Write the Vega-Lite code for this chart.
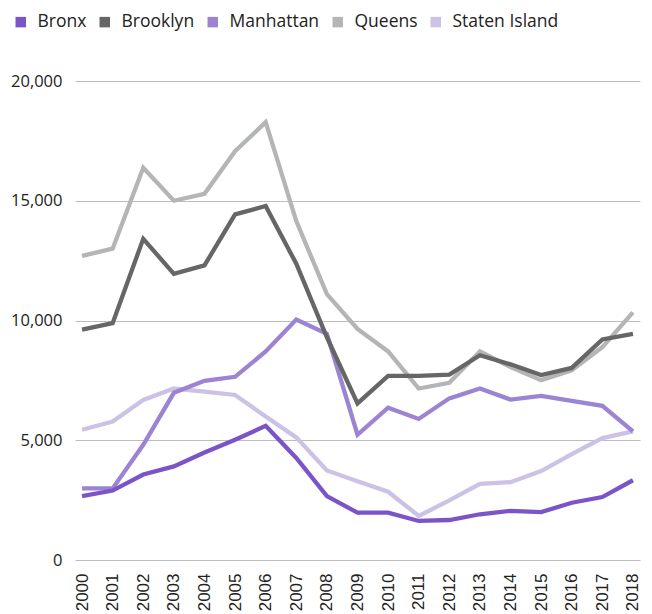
{
  "$schema": "https://vega.github.io/schema/vega-lite/v6.json",
  "autosize": {"type": "none"},
  "width": 565,
  "height": 479,
  "padding": {"left": 75, "top": 81, "right": 12, "bottom": 54},
  "background": "white",
  "config": {"view": {"stroke": null}},
  "data": {"values": [
    {"borough": "Staten Island", "year": "2000", "value": 5440},
    {"borough": "Staten Island", "year": "2001", "value": 5780},
    {"borough": "Staten Island", "year": "2002", "value": 6680},
    {"borough": "Staten Island", "year": "2003", "value": 7160},
    {"borough": "Staten Island", "year": "2004", "value": 7030},
    {"borough": "Staten Island", "year": "2005", "value": 6890},
    {"borough": "Staten Island", "year": "2006", "value": 5990},
    {"borough": "Staten Island", "year": "2007", "value": 5120},
    {"borough": "Staten Island", "year": "2008", "value": 3740},
    {"borough": "Staten Island", "year": "2009", "value": 3290},
    {"borough": "Staten Island", "year": "2010", "value": 2850},
    {"borough": "Staten Island", "year": "2011", "value": 1840},
    {"borough": "Staten Island", "year": "2012", "value": 2490},
    {"borough": "Staten Island", "year": "2013", "value": 3180},
    {"borough": "Staten Island", "year": "2014", "value": 3250},
    {"borough": "Staten Island", "year": "2015", "value": 3710},
    {"borough": "Staten Island", "year": "2016", "value": 4420},
    {"borough": "Staten Island", "year": "2017", "value": 5090},
    {"borough": "Staten Island", "year": "2018", "value": 5370},
    {"borough": "Queens", "year": "2000", "value": 12700},
    {"borough": "Queens", "year": "2001", "value": 13000},
    {"borough": "Queens", "year": "2002", "value": 16380},
    {"borough": "Queens", "year": "2003", "value": 15000},
    {"borough": "Queens", "year": "2004", "value": 15290},
    {"borough": "Queens", "year": "2005", "value": 17070},
    {"borough": "Queens", "year": "2006", "value": 18280},
    {"borough": "Queens", "year": "2007", "value": 14150},
    {"borough": "Queens", "year": "2008", "value": 11100},
    {"borough": "Queens", "year": "2009", "value": 9650},
    {"borough": "Queens", "year": "2010", "value": 8710},
    {"borough": "Queens", "year": "2011", "value": 7160},
    {"borough": "Queens", "year": "2012", "value": 7400},
    {"borough": "Queens", "year": "2013", "value": 8710},
    {"borough": "Queens", "year": "2014", "value": 8060},
    {"borough": "Queens", "year": "2015", "value": 7510},
    {"borough": "Queens", "year": "2016", "value": 7920},
    {"borough": "Queens", "year": "2017", "value": 8890},
    {"borough": "Queens", "year": "2018", "value": 10340},
    {"borough": "Manhattan", "year": "2000", "value": 2990},
    {"borough": "Manhattan", "year": "2001", "value": 2990},
    {"borough": "Manhattan", "year": "2002", "value": 4810},
    {"borough": "Manhattan", "year": "2003", "value": 6980},
    {"borough": "Manhattan", "year": "2004", "value": 7480},
    {"borough": "Manhattan", "year": "2005", "value": 7650},
    {"borough": "Manhattan", "year": "2006", "value": 8710},
    {"borough": "Manhattan", "year": "2007", "value": 10040},
    {"borough": "Manhattan", "year": "2008", "value": 9440},
    {"borough": "Manhattan", "year": "2009", "value": 5230},
    {"borough": "Manhattan", "year": "2010", "value": 6360},
    {"borough": "Manhattan", "year": "2011", "value": 5890},
    {"borough": "Manhattan", "year": "2012", "value": 6750},
    {"borough": "Manhattan", "year": "2013", "value": 7160},
    {"borough": "Manhattan", "year": "2014", "value": 6700},
    {"borough": "Manhattan", "year": "2015", "value": 6850},
    {"borough": "Manhattan", "year": "2016", "value": 6640},
    {"borough": "Manhattan", "year": "2017", "value": 6440},
    {"borough": "Manhattan", "year": "2018", "value": 5370},
    {"borough": "Brooklyn", "year": "2000", "value": 9620},
    {"borough": "Brooklyn", "year": "2001", "value": 9890},
    {"borough": "Brooklyn", "year": "2002", "value": 13410},
    {"borough": "Brooklyn", "year": "2003", "value": 11950},
    {"borough": "Brooklyn", "year": "2004", "value": 12300},
    {"borough": "Brooklyn", "year": "2005", "value": 14430},
    {"borough": "Brooklyn", "year": "2006", "value": 14780},
    {"borough": "Brooklyn", "year": "2007", "value": 12370},
    {"borough": "Brooklyn", "year": "2008", "value": 9300},
    {"borough": "Brooklyn", "year": "2009", "value": 6540},
    {"borough": "Brooklyn", "year": "2010", "value": 7690},
    {"borough": "Brooklyn", "year": "2011", "value": 7690},
    {"borough": "Brooklyn", "year": "2012", "value": 7740},
    {"borough": "Brooklyn", "year": "2013", "value": 8550},
    {"borough": "Brooklyn", "year": "2014", "value": 8170},
    {"borough": "Brooklyn", "year": "2015", "value": 7720},
    {"borough": "Brooklyn", "year": "2016", "value": 8020},
    {"borough": "Brooklyn", "year": "2017", "value": 9210},
    {"borough": "Brooklyn", "year": "2018", "value": 9440},
    {"borough": "Bronx", "year": "2000", "value": 2670},
    {"borough": "Bronx", "year": "2001", "value": 2900},
    {"borough": "Bronx", "year": "2002", "value": 3570},
    {"borough": "Bronx", "year": "2003", "value": 3910},
    {"borough": "Bronx", "year": "2004", "value": 4490},
    {"borough": "Bronx", "year": "2005", "value": 5020},
    {"borough": "Bronx", "year": "2006", "value": 5600},
    {"borough": "Bronx", "year": "2007", "value": 4260},
    {"borough": "Bronx", "year": "2008", "value": 2670},
    {"borough": "Bronx", "year": "2009", "value": 1975},
    {"borough": "Bronx", "year": "2010", "value": 1975},
    {"borough": "Bronx", "year": "2011", "value": 1630},
    {"borough": "Bronx", "year": "2012", "value": 1670},
    {"borough": "Bronx", "year": "2013", "value": 1910},
    {"borough": "Bronx", "year": "2014", "value": 2050},
    {"borough": "Bronx", "year": "2015", "value": 2000},
    {"borough": "Bronx", "year": "2016", "value": 2390},
    {"borough": "Bronx", "year": "2017", "value": 2630},
    {"borough": "Bronx", "year": "2018", "value": 3330}
  ]},
  "mark": {"type": "line", "strokeWidth": 4.3, "strokeJoin": "miter", "strokeCap": "butt"},
  "encoding": {
    "x": {
      "field": "year", "type": "ordinal", "sort": null,
      "scale": {"type": "point", "padding": 0.23},
      "axis": {
        "title": null, "labelAngle": -90, "labelFont": "Liberation Sans", "labelFontSize": 17,
        "labelColor": "#222222", "labelPadding": 13, "ticks": false, "domain": false, "grid": false
      }
    },
    "y": {
      "field": "value", "type": "quantitative",
      "scale": {"domain": [0, 20000], "nice": false},
      "axis": {
        "title": null, "values": [0, 5000, 10000, 15000, 20000], "format": ",d",
        "labelFont": "Open Sans", "labelFontSize": 16.5, "labelColor": "#222222", "labelPadding": 13,
        "ticks": false, "domain": false, "grid": true, "gridColor": "#bdbdbd", "gridWidth": 1
      }
    },
    "color": {
      "field": "borough", "type": "nominal",
      "scale": {
        "domain": ["Bronx", "Brooklyn", "Manhattan", "Queens", "Staten Island"],
        "range": ["#7b55c7", "#666666", "#9c84d3", "#b3b5b7", "#cbc2e5"]
      },
      "legend": {
        "title": null, "orient": "none", "direction": "horizontal",
        "legendX": -63, "legendY": -68,
        "symbolType": "square", "symbolSize": 110, "symbolOpacity": 1,
        "labelFont": "Open Sans", "labelFontSize": 17.5, "labelColor": "#222222",
        "labelOffset": 8, "columnPadding": 9,
        "encode": {
          "symbols": {
            "update": {
              "fill": {"scale": "color", "field": "value"},
              "strokeWidth": {"value": 0}
            }
          }
        }
      }
    }
  }
}
